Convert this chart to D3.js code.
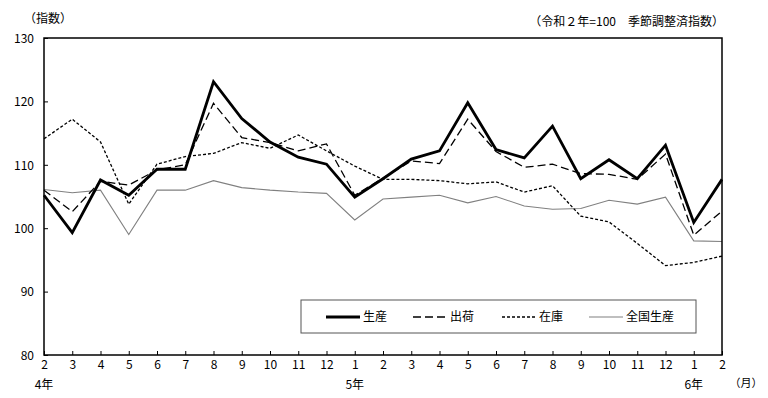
<!DOCTYPE html>
<html>
<head>
<meta charset="utf-8">
<script src="https://cdn.jsdelivr.net/npm/d3@7"></script>
<style>
  body { margin: 0; background: #fff; }
  text { font-family: "Noto Sans CJK JP", "DejaVu Sans", sans-serif; fill: #000; }
</style>
</head>
<body>
<div id="chart"></div>
<script>
// Month labels (令和4年2月 .. 令和6年2月)
const months = ["2", "3", "4", "5", "6", "7", "8", "9", "10", "11", "12",
                "1", "2", "3", "4", "5", "6", "7", "8", "9", "10", "11", "12",
                "1", "2"];
const yearLabels = [{ idx: 0, label: "4年" }, { idx: 11, label: "5年" }, { idx: 23, label: "6年" }];
const yTicks = [80, 90, 100, 110, 120, 130];

// Series values
const production = [105.2, 99.3, 107.6, 105.2, 109.3, 109.3, 123.1, 117.3, 113.6, 111.2, 110.1,
                     104.9, 107.8, 110.9, 112.2, 119.8, 112.4, 111.1, 116.1, 107.8, 110.8, 107.8, 113.1,
                     100.9, 107.7];
const shipments = [106.0, 102.6, 107.4, 106.8, 109.2, 110.0, 119.7, 114.3, 113.5, 112.2, 113.3,
                   105.2, 107.9, 110.6, 110.2, 117.2, 112.1, 109.6, 110.1, 108.6, 108.5, 107.7, 111.7,
                   98.9, 102.7];
const inventory = [114.1, 117.2, 113.6, 103.8, 110.1, 111.3, 111.8, 113.5, 112.6, 114.7, 112.2,
                   109.8, 107.7, 107.7, 107.5, 107.0, 107.3, 105.7, 106.7, 101.9, 101.0, 97.6, 94.1,
                   94.6, 95.6];
const national = [106.1, 105.6, 106.0, 99.0, 106.0, 106.0, 107.5, 106.4, 106.0, 105.7, 105.5,
                  101.3, 104.6, 104.9, 105.2, 104.0, 105.0, 103.5, 103.0, 103.1, 104.4, 103.8, 104.9,
                  98.0, 97.9];

const width = 768;
const height = 398;
const plotLeft = 44;
const plotRight = 722;
const plotTop = 38;
const plotBottom = 355;

const svg = d3.select("#chart")
    .append("svg")
    .attr("width", width)
    .attr("height", height);

const x = d3.scaleLinear()
    .domain([0, months.length - 1])
    .range([plotLeft, plotRight]);

const y = d3.scaleLinear()
    .domain([80, 130])
    .range([plotBottom, plotTop]);

// Series lines
const series = [
    { name: "生産", values: production, color: "#000", width: 2.8, dash: null },
    { name: "出荷", values: shipments, color: "#000", width: 1.3, dash: "8,4" },
    { name: "在庫", values: inventory, color: "#000", width: 1.3, dash: "3,2" },
    { name: "全国生産", values: national, color: "#808080", width: 1.1, dash: null }
];

const line = d3.line()
    .x((d, i) => x(i))
    .y(d => y(d));

// draw gray first so black lines sit on top
series.slice().reverse().forEach(s => {
    svg.append("path")
        .datum(s.values)
        .attr("d", line)
        .attr("fill", "none")
        .attr("stroke", s.color)
        .attr("stroke-width", s.width)
        .attr("stroke-dasharray", s.dash)
        .attr("stroke-linejoin", "miter");
});

// Frame
svg.append("rect")
    .attr("x", plotLeft)
    .attr("y", plotTop)
    .attr("width", plotRight - plotLeft)
    .attr("height", plotBottom - plotTop)
    .attr("fill", "none")
    .attr("stroke", "#000")
    .attr("stroke-width", 1.5);

// Y axis, ticks pointing inward
const yAxis = svg.append("g")
    .attr("transform", "translate(" + plotLeft + ",0)")
    .call(d3.axisRight(y).tickValues(yTicks).tickSize(4).tickFormat(""));
yAxis.select(".domain").remove();

yAxis.selectAll(".tick").append("text")
    .attr("x", -10)
    .attr("dy", "0.35em")
    .attr("text-anchor", "end")
    .style("font-size", "12px")
    .text(d => d);

// X axis, ticks pointing up
const xAxis = svg.append("g")
    .attr("transform", "translate(0," + plotBottom + ")")
    .call(d3.axisTop(x).tickValues(d3.range(months.length)).tickSize(4).tickFormat(""));
xAxis.select(".domain").remove();

xAxis.selectAll(".tick").append("text")
    .attr("y", 14)
    .attr("text-anchor", "middle")
    .style("font-size", "12px")
    .text(d => months[d]);

svg.selectAll(".year-label")
    .data(yearLabels)
    .enter()
    .append("text")
    .attr("class", "year-label")
    .attr("x", d => x(d.idx))
    .attr("y", 389)
    .attr("text-anchor", "middle")
    .style("font-size", "12px")
    .text(d => d.label);

svg.append("text")
    .attr("x", 746)
    .attr("y", 387)
    .attr("text-anchor", "middle")
    .style("font-size", "11px")
    .text("（月）");

// Titles
svg.append("text")
    .attr("x", 24)
    .attr("y", 23)
    .style("font-size", "12px")
    .text("（指数）");

svg.append("text")
    .attr("x", 724)
    .attr("y", 26)
    .attr("text-anchor", "end")
    .style("font-size", "12px")
    .text("（令和２年=100　季節調整済指数）");

// Legend
const legendX = 301;
const legendY = 300;
svg.append("rect")
    .attr("x", legendX)
    .attr("y", legendY)
    .attr("width", 395)
    .attr("height", 33)
    .attr("fill", "#fff")
    .attr("stroke", "#555")
    .attr("stroke-width", 1);

const legendOffsets = [25, 112, 201, 288];
const legendItem = svg.selectAll(".legend-item")
    .data(series)
    .enter()
    .append("g")
    .attr("class", "legend-item")
    .attr("transform", (d, i) => "translate(" + (legendX + legendOffsets[i]) + "," + (legendY + 17) + ")");

legendItem.append("line")
    .attr("x1", 0)
    .attr("x2", 34)
    .attr("stroke", d => d.color)
    .attr("stroke-width", d => d.width)
    .attr("stroke-dasharray", d => d.dash);

legendItem.append("text")
    .attr("x", 37)
    .attr("dy", "0.35em")
    .style("font-size", "12px")
    .text(d => d.name);
</script>
</body>
</html>
